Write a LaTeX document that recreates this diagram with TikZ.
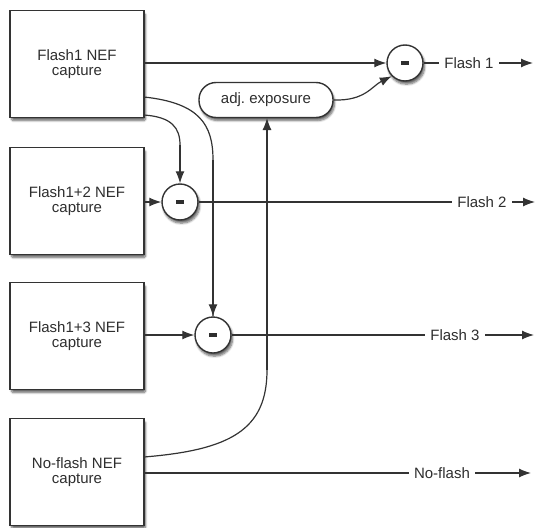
\documentclass[tikz,border=0pt]{standalone}
\usepackage{fontspec}
\setmainfont{Liberation Sans}
\usetikzlibrary{arrows.meta,shadows.blur,calc}
\definecolor{ink}{HTML}{2E2E2E}
\definecolor{edge}{HTML}{333333}
\begin{document}
\begin{tikzpicture}[x=1pt,y=-1pt,
  font=\fontsize{15}{15.5}\selectfont, text=ink,
  shad/.style={blur shadow={shadow blur steps=6, shadow xshift=1.5pt, shadow yshift=-3pt, shadow opacity=60, shadow blur extra rounding=1.5pt}},
  capbox/.style={draw=edge, line width=1.4pt, fill=white, minimum width=134pt, minimum height=107pt, align=center, inner sep=0pt, shad},
  minus/.style={circle, draw=edge, line width=1.4pt, fill=white, minimum size=36pt, inner sep=0pt, shad},
  adjbox/.style={draw=edge, line width=1.4pt, fill=white, rounded corners=17pt, minimum width=134pt, minimum height=35pt, inner sep=0pt, shad},
  lab/.style={fill=white, inner xsep=5pt, inner ysep=2pt},
  wire/.style={draw=edge, line width=1.2pt},
  arr/.style={wire, -{Latex[length=12pt,width=9pt]}}
]
\useasboundingbox (0,0) rectangle (535,527);

% capture boxes
\node[capbox] (b1) at (77,64)  {Flash1 NEF\\capture};
\node[capbox] (b2) at (77,201) {Flash1+2 NEF\\capture};
\node[capbox] (b3) at (77,336) {Flash1+3 NEF\\capture};
\node[capbox] (b4) at (77,472) {No-flash NEF\\capture};

% subtractors
\node[minus] (c1) at (405,63)  {\rule{8pt}{3.2pt}};
\node[minus] (c2) at (180,202) {\rule{8pt}{3.2pt}};
\node[minus] (c3) at (213,335) {\rule{8pt}{3.2pt}};

% adj exposure
\node[adjbox] (adj) at (266,100) {adj.\ exposure};

% output labels
\node[lab] (l1) at (469,63)  {Flash 1};
\node[lab] (l2) at (482,202) {Flash 2};
\node[lab] (l3) at (455,335) {Flash 3};
\node[lab] (l4) at (442,473) {No-flash};
\coordinate (e1) at (533,63);
\coordinate (e2) at (535,202);
\coordinate (e3) at (534,335);
\coordinate (e4) at (531,473);

% curve start points
\coordinate (s1a) at (144,97);
\coordinate (s1b) at (144,115);
\coordinate (s4) at (144,457);
\coordinate (v1) at (180,145);
\coordinate (v2) at (213,160);
\coordinate (v4) at (267,370);
\coordinate (t4) at (267,118);

\draw[wire] (b4.east |- l4) -- (l4);
\draw[arr] (l4) -- (e4);

\draw[wire] (s1a) .. controls (200,103) and (213,125) .. (v2) -- (c3.north);
\draw[arr] (v2) -- (c3.north);
\draw[wire] (s4) .. controls (230,450) and (267,430) .. (v4);
\draw[arr] (v4) -- (t4);

\draw[arr] (b1.east |- c1) -- (c1.west);
\draw[wire] (c1.east) -- (l1);
\draw[arr] (l1) -- (e1);

\draw[wire] (s1b) .. controls (172,117) and (180,128) .. (v1);
\draw[arr] (v1) -- (c2.north);
\draw[arr] (b2.east |- c2) -- (c2.west);
\draw[wire] (c2.east) -- (l2);
\draw[arr] (l2) -- (e2);

\draw[arr] (b3.east |- c3) -- (c3.west);
\draw[wire] (c3.east) -- (l3);
\draw[arr] (l3) -- (e3);

\draw[arr] (adj.east) .. controls (365,101) and (372,86) .. (c1.225);

% labels on top of crossings
\node[lab] at (l1) {Flash 1};
\node[lab] at (l2) {Flash 2};
\node[lab] at (l3) {Flash 3};
\node[lab] at (l4) {No-flash};
\end{tikzpicture}
\end{document}
